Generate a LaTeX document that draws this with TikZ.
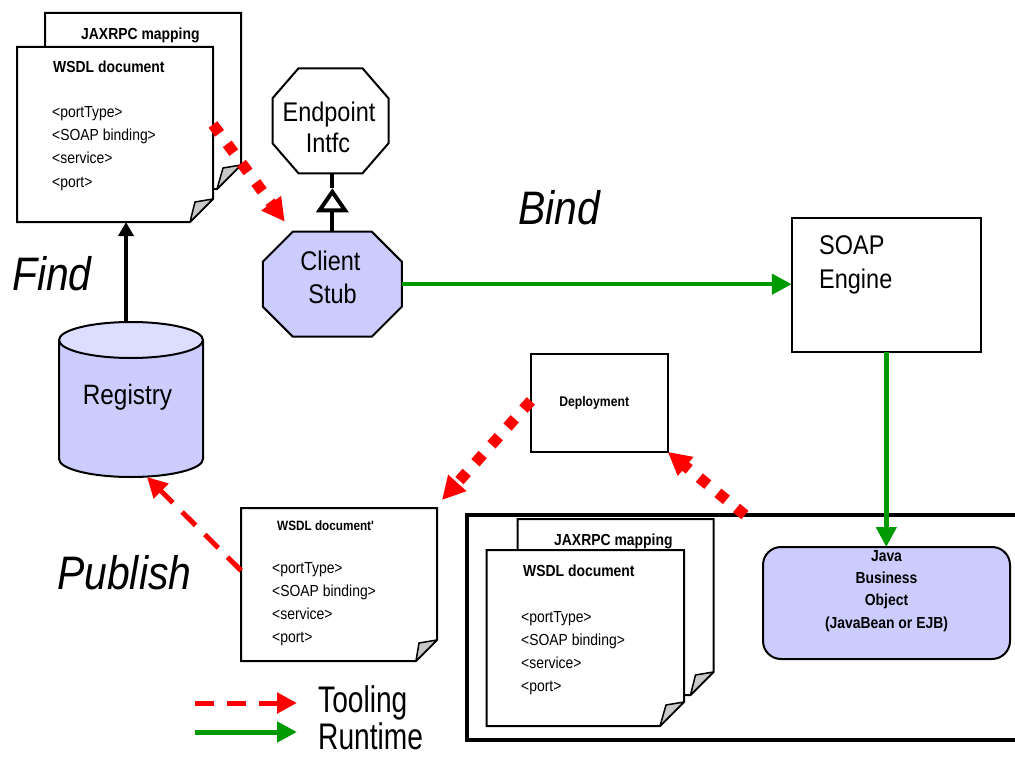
\documentclass[tikz,border=0pt]{standalone}
\usepackage{fontspec}
\setmainfont{Liberation Sans}[FakeStretch=0.87]
\newfontfamily\legendfont{Liberation Sans}[FakeStretch=0.76]
\usetikzlibrary{arrows.meta}

\definecolor{lavender}{HTML}{CCCCFF}
\definecolor{lavendertop}{HTML}{DDDDFF}
\definecolor{toolred}{HTML}{FF0000}
\definecolor{rungreen}{HTML}{009900}
\definecolor{flapgray}{HTML}{C8C8C8}

% A sheet of paper with a curled bottom-right corner, drawn over an empty frame node
\newcommand\DocSheet[2]{%
  \filldraw[sheet] (#1.north west) -- (#1.north east) -- ([yshift=#2pt]#1.south east)
    -- ([xshift=-#2pt]#1.south east) -- (#1.south west) -- cycle;
  \filldraw[flap] ([yshift=#2pt]#1.south east)
    -- ([xshift=-18pt,yshift={#2pt-3pt}]#1.south east)
    -- ([xshift=-#2pt]#1.south east) -- cycle;
}
% Eight-sided outline with corner cuts #2 (horizontal) and #3 (vertical)
\newcommand\OctShape[4]{%
  \filldraw[outline, fill=#4] ([xshift=#2pt]#1.north west) -- ([xshift=-#2pt]#1.north east)
    -- ([yshift=-#3pt]#1.north east) -- ([yshift=#3pt]#1.south east)
    -- ([xshift=-#2pt]#1.south east) -- ([xshift=#2pt]#1.south west)
    -- ([yshift=#3pt]#1.south west) -- ([yshift=-#3pt]#1.north west) -- cycle;
}
% The standard list of WSDL elements, one line each
\newcommand\SheetLines[3]{%
  \foreach \ln [count=\k] in {<portType>,<SOAP binding>,<service>,<port>}
    \node[doctext] (#1-\k) at (#2, {#3+23*(\k-1)}) {\ln};
}

\begin{document}
\begin{tikzpicture}[x=1pt, y=-1pt,
  frame/.style 2 args={minimum width=#1pt, minimum height=#2pt, inner sep=0pt, outer sep=0pt},
  sheet/.style={fill=white, draw=black, line width=2pt},
  flap/.style={fill=flapgray, draw=black, line width=1.5pt, line join=round},
  outline/.style={draw=black, line width=2pt},
  doctext/.style={anchor=base west, inner sep=0pt, font=\fontsize{16pt}{19pt}\selectfont},
  dochead/.style={doctext, font=\fontsize{16pt}{19pt}\selectfont\bfseries},
  boldtext/.style={anchor=base, inner sep=0pt, font=\fontsize{16pt}{19pt}\selectfont\bfseries},
  bigtext/.style={anchor=base, inner sep=0pt, font=\fontsize{27pt}{32pt}\selectfont},
  phase/.style={anchor=base west, inner sep=0pt, font=\fontsize{47pt}{56pt}\selectfont\itshape},
  legendtext/.style={anchor=base west, inner sep=0pt, font=\legendfont\fontsize{37pt}{43pt}\selectfont},
  tooling/.style={draw=toolred, line width=11pt, dash pattern=on 11pt off 13pt,
    -{Triangle[length=23pt,width=23pt]}},
  toolingthin/.style={draw=toolred, line width=5pt, dash pattern=on 19pt off 13pt,
    -{Triangle[length=20pt,width=20pt]}},
  runtime/.style={draw=rungreen, line width=4.5pt, -{Triangle[length=20pt,width=20pt]}},
  findarrow/.style={draw=black, line width=4pt, -{Triangle[length=14pt,width=15pt]}},
  realizes/.style={draw=black, line width=4pt, -{Triangle[open,length=24pt,width=32pt]}},
]
\useasboundingbox (0,0) rectangle (1015,757);

% server-side frame, open to the right
\node[frame={600}{225}, draw, line width=4pt] (server) at (767,627.5) {};

% ---- WSDL + mapping files on the client side
\node[frame={196}{176}] (jaxA) at (143,101) {};
\node[frame={196}{175}] (wsdlA) at (115,134.5) {};
\DocSheet{jaxA}{24}
\DocSheet{wsdlA}{23}
\node[dochead] (jaxA-head) at (81,40) {JAXRPC mapping};
\node[dochead] (wsdlA-head) at (53,73) {WSDL document};
\SheetLines{wsdlA}{52}{118}

% ---- endpoint interface and client stub
\node[frame={116}{105}] (endp) at (330.5,120.8) {};
\OctShape{endp}{26}{30}{white}
\node[bigtext] (endp-1) at (329,122) {Endpoint};
\node[bigtext] (endp-2) at (328,153) {Intfc};

\node[frame={139}{105}] (stub) at (332.3,284.2) {};
\OctShape{stub}{30}{30}{lavender}
\node[bigtext] (stub-1) at (330.5,270) {Client};
\node[bigtext] (stub-2) at (332.5,303) {Stub};

% ---- registry cylinder
\node[frame={144}{155}] (reg) at (131,399.5) {};
\fill[lavender] ([yshift=-18pt]reg.north west) -- ([yshift=18pt]reg.south west)
  arc[start angle=180, end angle=360, x radius=72pt, y radius=18pt]
  -- ([yshift=-18pt]reg.north east) -- cycle;
\draw[outline] ([yshift=-18pt]reg.north west) -- ([yshift=18pt]reg.south west)
  arc[start angle=180, end angle=360, x radius=72pt, y radius=18pt]
  -- ([yshift=-18pt]reg.north east);
\filldraw[outline, fill=lavendertop] ([yshift=-18pt]reg.north) ellipse[x radius=72pt, y radius=18pt];
\node[anchor=base, inner sep=0pt, font=\fontsize{28pt}{33pt}\selectfont] (reg-txt) at (127.5,404) {Registry};

% ---- SOAP engine
\node[frame={189}{134}, draw, line width=2pt, fill=white] (soap) at (886.3,284.7) {};
\node[anchor=base west, inner sep=0pt, font=\fontsize{27pt}{32pt}\selectfont] (soap-1) at (819,254) {SOAP};
\node[anchor=base west, inner sep=0pt, font=\fontsize{27pt}{32pt}\selectfont] (soap-2) at (819,288) {Engine};

% ---- deployment step
\node[frame={137}{98}, draw, line width=2pt, fill=white] (deploy) at (599.3,402.9) {};
\node[anchor=base, inner sep=0pt, font=\fontsize{14pt}{17pt}\selectfont\bfseries] (deploy-txt) at (594.2,406) {Deployment};

% ---- published WSDL
\node[frame={196}{153}] (wsdlB) at (339,584.5) {};
\DocSheet{wsdlB}{21}
\node[anchor=base west, inner sep=0pt, font=\fontsize{13.5pt}{16pt}\selectfont\bfseries] (wsdlB-head) at (277,530) {WSDL document\textquotesingle};
\SheetLines{wsdlB}{272}{573}

% ---- server-side WSDL + mapping files
\node[frame={196}{176}] (jaxC) at (615.5,607) {};
\node[frame={197.5}{176}] (wsdlC) at (585.25,638) {};
\DocSheet{jaxC}{23}
\DocSheet{wsdlC}{24}
\node[dochead] (jaxC-head) at (554,545) {JAXRPC mapping};
\node[dochead] (wsdlC-head) at (523,576) {WSDL document};
\SheetLines{wsdlC}{521}{622}

% ---- business object
\node[frame={247}{112}, draw, line width=2pt, fill=lavender, rounded corners=18pt] (java) at (886.5,603) {};
\node[boldtext] (java-1) at (886.5,561) {Java};
\node[boldtext] (java-2) at (886.5,583.5) {Business};
\node[boldtext] (java-3) at (886.5,605.5) {Object};
\node[boldtext] (java-4) at (886.5,628) {(JavaBean or EJB)};

% ---- phase labels
\node[phase] (find) at (12,290) {Find};
\node[phase] (bind) at (518,224) {Bind};
\node[phase] (publish) at (57,589) {Publish};

% ---- connectors
\draw[findarrow] ([xshift=-5pt]reg.north) -- ([xshift=-5pt]reg.north |- wsdlA.south);
\coordinate (ifaceFoot) at (stub.north |- endp.south);
\draw[realizes] (stub.north) -- ([yshift=-15pt]ifaceFoot);
\draw[line width=4pt] ([yshift=-15pt]ifaceFoot) -- (ifaceFoot);

\draw[runtime] (stub.east) -- (stub.east -| soap.west);
\draw[runtime] (soap.south) -- (soap.south |- java.north);

\draw[tooling] ([yshift=10pt]wsdlA.east) -- ([xshift=22pt,yshift=10pt]stub.north west);
\draw[tooling] ([yshift=2pt]deploy.west) -- ([xshift=5pt,yshift=8pt]wsdlB.north east);
\draw[tooling] ([xshift=278pt]server.north west) -- (deploy.south east);
\draw[toolingthin] ([yshift=14pt]wsdlB.west) -- ([xshift=16pt]reg.south);

% ---- legend
\coordinate (toolA) at (195,703);
\coordinate (toolB) at (297,703);
\coordinate (runA) at (195,732);
\coordinate (runB) at (297,732);
\draw[toolingthin] (toolA) -- (toolB);
\draw[runtime, line width=5pt] (runA) -- (runB);
\node[legendtext] (legend-tool) at (318,712) {Tooling};
\node[legendtext] (legend-run) at (318,749) {Runtime};
\end{tikzpicture}
\end{document}
